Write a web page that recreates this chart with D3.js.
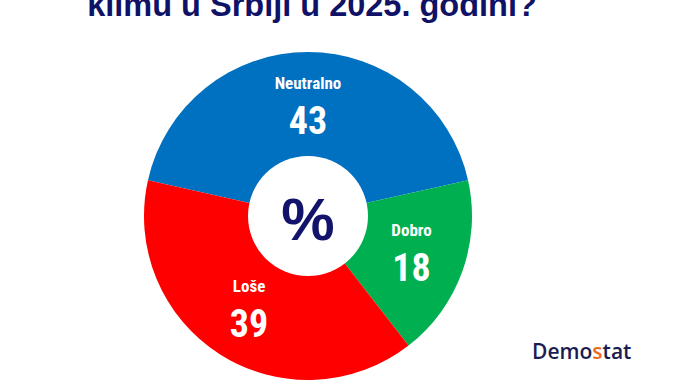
<!DOCTYPE html>
<html>
<head>
<meta charset="utf-8">
<script src="https://cdn.jsdelivr.net/npm/d3@7"></script>
<style>
  body { margin: 0; background: #fff; }
  svg { display: block; }
</style>
</head>
<body>
<div id="chart"></div>
<script>
// data
var categories = ["Neutralno", "Dobro", "Loše"];
var values = [43, 18, 39];
var colors = ["#0070c0", "#00b050", "#ff0000"];
var title = "klimu u Srbiji u 2025. godini?";

var width = 688, height = 387;
var cx = 308, cy = 216;
var outerR = 164, innerR = 60;

var svg = d3.select("#chart")
  .append("svg")
    .attr("width", width)
    .attr("height", height);

// title (upper line is cut off in the original)
svg.append("text")
  .attr("x", 312)
  .attr("y", 16)
  .attr("text-anchor", "middle")
  .attr("font-family", "Liberation Sans, Arial, sans-serif")
  .attr("font-weight", "bold")
  .attr("font-size", "32.5px")
  .attr("fill", "#0f1266")
  .text(title);

var data = categories.map(function(c, i) {
  return {label: c, value: values[i], color: colors[i]};
});

// blue slice sits centred on top
var start = -Math.PI * values[0] / 100;
var pie = d3.pie()
  .sort(null)
  .value(function(d) { return d.value; })
  .startAngle(start)
  .endAngle(start + 2 * Math.PI);

var arc = d3.arc().innerRadius(0).outerRadius(outerR);
var labelArc = d3.arc().innerRadius(110).outerRadius(110);

var g = svg.append("g")
  .attr("transform", "translate(" + cx + "," + cy + ")");

g.selectAll(".slice")
  .data(pie(data))
  .enter().append("path")
    .attr("class", "slice")
    .attr("d", arc)
    .attr("fill", function(d) { return d.data.color; });

// white hole with % sign
g.append("circle")
  .attr("r", innerR)
  .attr("fill", "#fff");

g.append("text")
  .attr("x", 0)
  .attr("y", 24)
  .attr("text-anchor", "middle")
  .attr("font-family", "Liberation Sans, Arial, sans-serif")
  .attr("font-weight", "bold")
  .attr("font-size", "60px")
  .attr("fill", "#13136b")
  .text("%");

var lab = g.selectAll(".lab")
  .data(pie(data))
  .enter().append("g")
    .attr("class", "lab")
    .attr("transform", function(d) { return "translate(" + labelArc.centroid(d) + ")"; });

lab.append("text")
  .attr("y", -17)
  .attr("text-anchor", "middle")
  .attr("font-family", "Liberation Sans Narrow, Roboto Condensed, sans-serif")
  .attr("font-weight", "bold")
  .attr("font-size", "17px")
  .attr("fill", "#fff")
  .text(function(d) { return d.data.label; });

lab.append("text")
  .attr("y", 28)
  .attr("text-anchor", "middle")
  .attr("font-family", "Liberation Sans Narrow, Roboto Condensed, sans-serif")
  .attr("font-weight", "bold")
  .attr("font-size", "38px")
  .attr("fill", "#fff")
  .text(function(d) { return d.data.value; });

// logo
var logo = svg.append("text")
  .attr("x", 532)
  .attr("y", 359)
  .attr("font-family", "Open Sans, sans-serif")
  .attr("font-weight", 600)
  .attr("font-size", "21px")
  .attr("fill", "#1b1c4f");
logo.append("tspan").text("Demo");
logo.append("tspan").attr("fill", "#ea6a1f").text("s");
logo.append("tspan").text("tat");
</script>
</body>
</html>
